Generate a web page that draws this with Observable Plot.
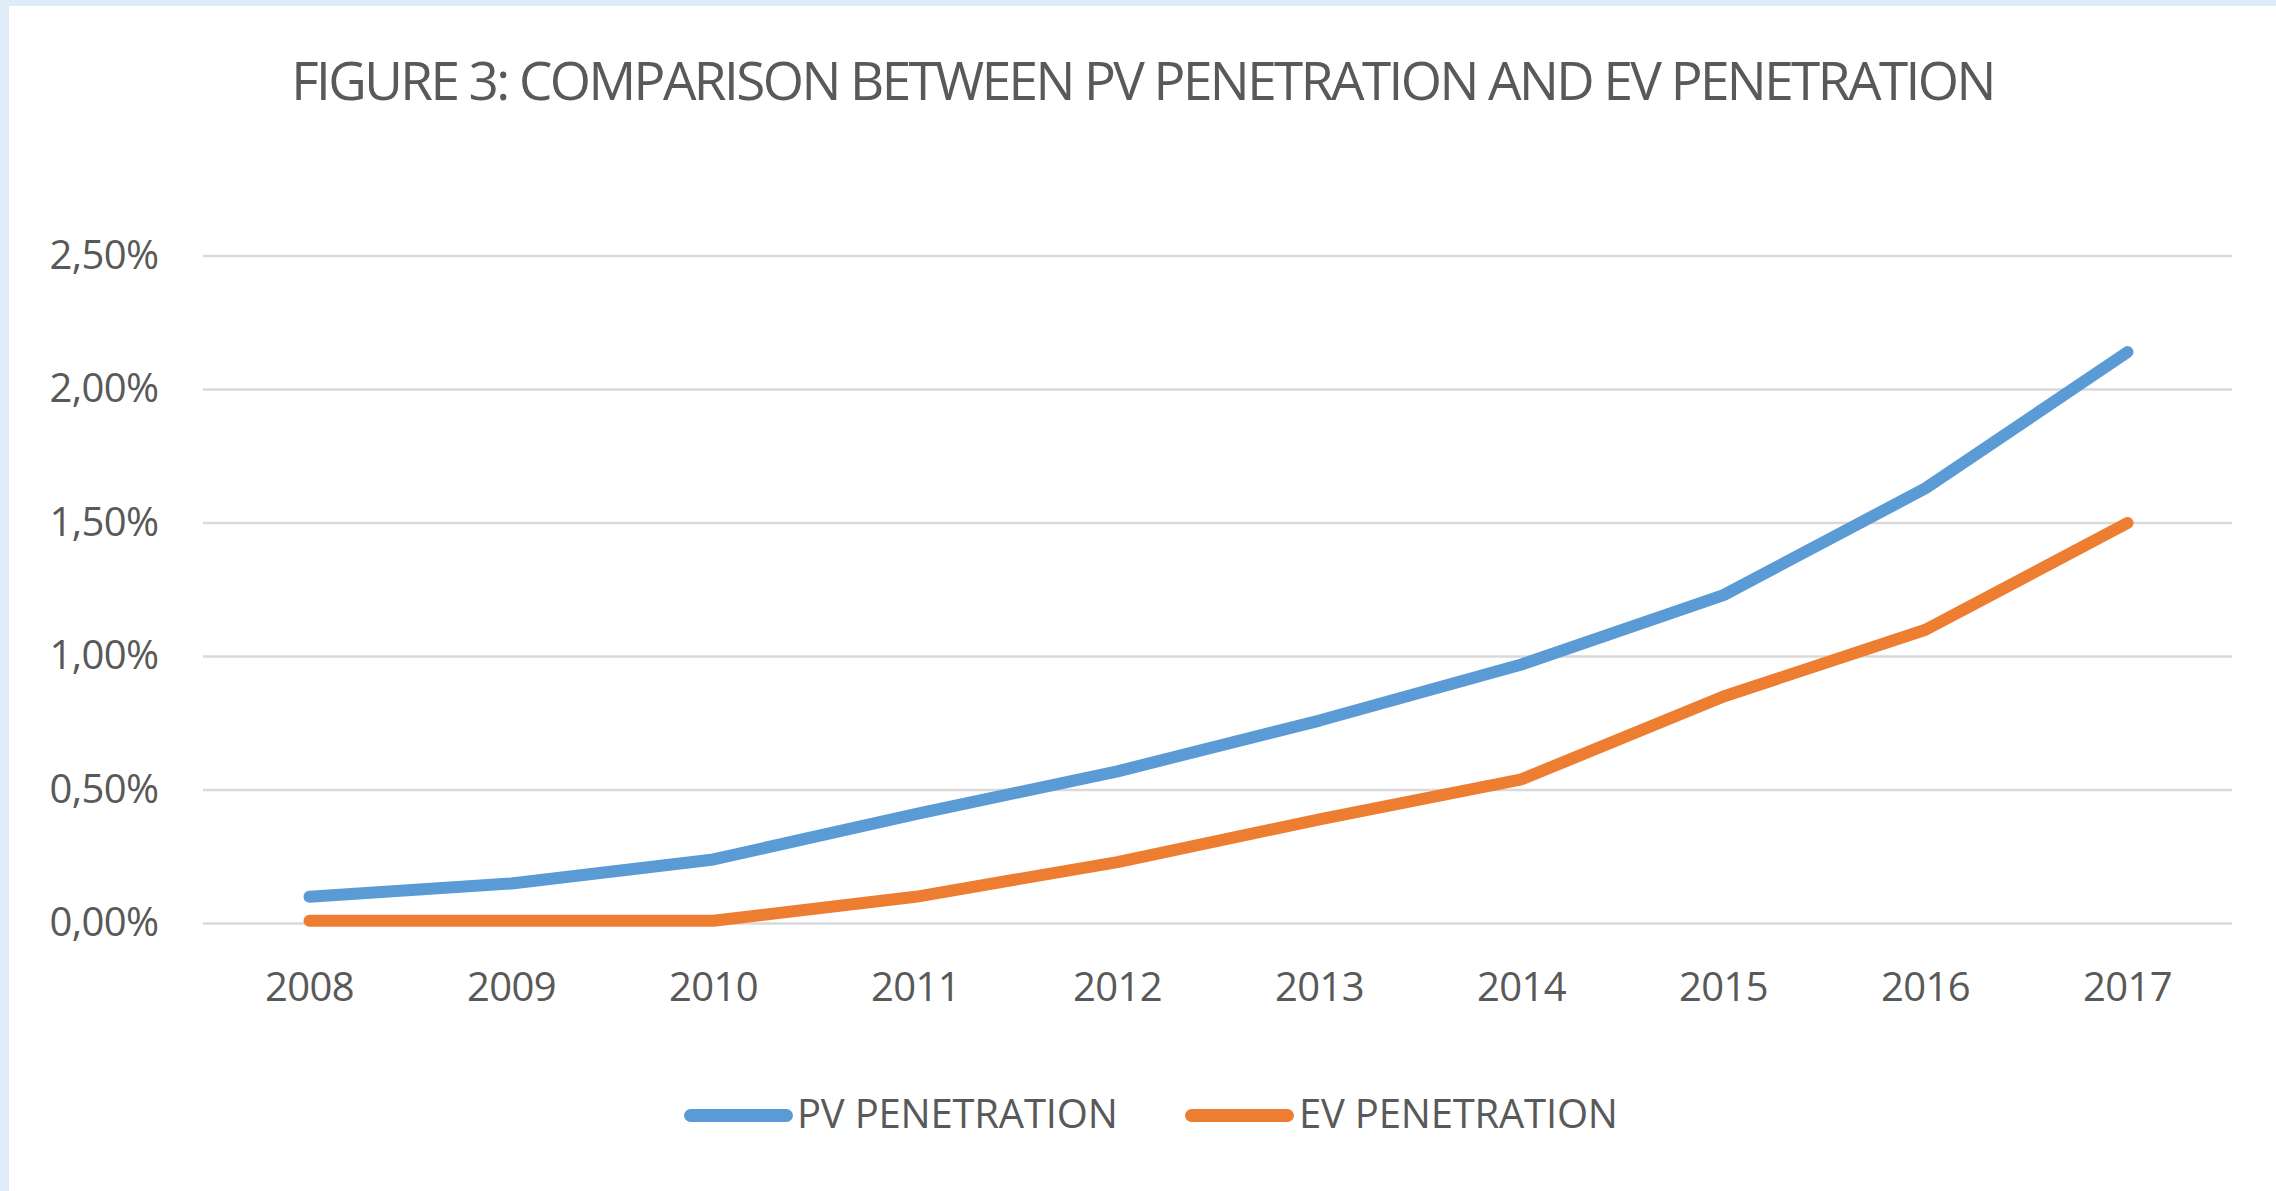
<!DOCTYPE html>
<html>
<head>
<meta charset="utf-8">
<script src="https://cdn.jsdelivr.net/npm/d3@7"></script>
<script src="https://cdn.jsdelivr.net/npm/@observablehq/plot@0.6"></script>
<style>
  html, body { margin: 0; padding: 0; background: #ffffff; }
  #page { position: relative; width: 2276px; height: 1191px; overflow: hidden; background: #ffffff; font-family: "Open Sans", sans-serif; color: #595959; }
  #stripTop { position: absolute; left: 0; top: 0; width: 2276px; height: 6px; background: #dfebf6; z-index: 5; }
  #stripLeft { position: absolute; left: 0; top: 0; width: 9px; height: 1191px; background: #dfebf6; z-index: 5; }
  #title { position: absolute; left: 9px; top: 53px; width: 2267px; text-align: center; font-size: 53px; line-height: 53px; letter-spacing: -2.55px; white-space: nowrap; }
  #chart { position: absolute; left: 0; top: 150px; }
  .leg { position: absolute; font-size: 40px; line-height: 40px; letter-spacing: -0.2px; white-space: nowrap; top: 1093px; }
  .sw { position: absolute; height: 13px; border-radius: 6.5px; top: 1109px; }
</style>
</head>
<body>
<div id="page">
  <div id="stripTop"></div>
  <div id="stripLeft"></div>
  <div id="title"></div>
  <div id="chart"></div>
  <div id="legend"></div>
</div>
<script>
const titleText = "FIGURE 3: COMPARISON BETWEEN PV PENETRATION AND EV PENETRATION";
const years = ["2008", "2009", "2010", "2011", "2012", "2013", "2014", "2015", "2016", "2017"];
const seriesNames = ["PV PENETRATION", "EV PENETRATION"];
const seriesColors = ["#5b9bd5", "#ed7d31"];
const pvValues = [0.0010, 0.0015, 0.0024, 0.0041, 0.0057, 0.0076, 0.0097, 0.0123, 0.0163, 0.0214];
const evValues = [0.0001, 0.0001, 0.0001, 0.0010, 0.0023, 0.0039, 0.0054, 0.0085, 0.0110, 0.0150];
const yTicks = [0, 0.005, 0.010, 0.015, 0.020, 0.025];

const fmtPct = d => (d * 100).toFixed(2).replace(".", ",") + "%";

const data = [
  ...years.map((y, i) => ({year: y, value: pvValues[i], series: seriesNames[0]})),
  ...years.map((y, i) => ({year: y, value: evValues[i], series: seriesNames[1]}))
];

document.getElementById("title").textContent = titleText;

const chart = Plot.plot({
  width: 2276,
  height: 900,
  marginTop: 105.5,
  marginBottom: 127,
  marginLeft: 203,
  marginRight: 44,
  style: {fontFamily: "Open Sans, sans-serif", fontSize: "40px", color: "#595959", background: "transparent", letterSpacing: "-0.6px"},
  x: {type: "point", domain: years, padding: 0.5, label: null, tickSize: 0, tickPadding: 49},
  y: {domain: [0, 0.025], ticks: yTicks, tickFormat: fmtPct, tickSize: 0, tickPadding: 45, label: null},
  color: {domain: seriesNames, range: seriesColors},
  marks: [
    Plot.ruleY(yTicks, {stroke: "#d9d9d9", strokeWidth: 2.5}),
    Plot.line(data, {x: "year", y: "value", z: "series", stroke: "series", strokeWidth: 12, strokeLinecap: "round", strokeLinejoin: "round"})
  ]
});
document.getElementById("chart").appendChild(chart);

// Legend (HTML, below the SVG)
const legend = document.getElementById("legend");
const legendPos = [{sw: 684, tx: 797}, {sw: 1185, tx: 1299}];
seriesNames.forEach((name, i) => {
  const sw = document.createElement("div");
  sw.className = "sw";
  sw.style.left = legendPos[i].sw + "px";
  sw.style.width = "109px";
  sw.style.background = seriesColors[i];
  legend.appendChild(sw);
  const tx = document.createElement("div");
  tx.className = "leg";
  tx.style.left = legendPos[i].tx + "px";
  tx.textContent = name;
  legend.appendChild(tx);
});
</script>
</body>
</html>
